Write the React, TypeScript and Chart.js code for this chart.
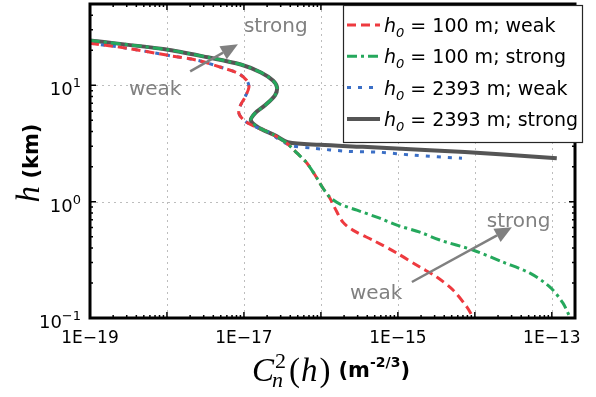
import React, { useEffect, useRef } from "react";
import { Chart, registerables } from "chart.js";
Chart.register(...registerables);

// ---- axis ranges & ticks ----
const X_MIN = 1e-19;
const X_MAX = 2e-13;
const Y_MIN = 0.1;
const Y_MAX = 50;
const xDecades = [-19, -18, -17, -16, -15, -14, -13];
const xLabelDecades = [-19, -17, -15, -13];
const yDecades = [-1, 0, 1];
const yExpLabels = ["\u22121", "0", "1"];

// ---- series: Cn2 (m^-2/3) vs h (km) ----
const weak100Cn2 = [1.0e-19, 3.1e-19, 1.03e-18, 2.5e-18, 5.0e-18, 8.4e-18, 1.09e-17, 1.16e-17, 1.03e-17, 8.9e-18, 8.6e-18, 1.0e-17, 1.35e-17, 2.24e-17, 3.6e-17, 4.9e-17, 6.6e-17, 8.9e-17, 1.06e-16, 1.31e-16, 1.52e-16, 1.93e-16, 2.6e-16, 5.0e-16, 9.7e-16, 1.93e-15, 3.2e-15, 5.2e-15, 7.9e-15, 9.4e-15];
const weak100H = [23.0, 20.8, 18.1, 16.4, 14.3, 12.7, 11.0, 9.6, 7.9, 6.6, 5.75, 5.0, 4.45, 3.87, 3.18, 2.61, 2.14, 1.59, 1.31, 1.07, 0.88, 0.667, 0.569, 0.458, 0.361, 0.274, 0.225, 0.174, 0.124, 0.102];

const strong100Cn2 = [1.0e-19, 9.4e-19, 3.4e-18, 9.1e-18, 1.66e-17, 2.38e-17, 2.69e-17, 2.53e-17, 1.88e-17, 1.39e-17, 1.23e-17, 1.52e-17, 2.53e-17, 3.6e-17, 4.9e-17, 6.6e-17, 8.9e-17, 1.06e-16, 1.31e-16, 1.77e-16, 2.94e-16, 5.8e-16, 9.7e-16, 1.93e-15, 3.5e-15, 9.4e-15, 2.3e-14, 5.2e-14, 9.4e-14, 1.39e-13, 1.71e-13];
const strong100H = [24.3, 20.4, 17.4, 15.1, 12.9, 11.0, 9.6, 8.2, 6.73, 5.75, 5.01, 4.36, 3.72, 3.18, 2.61, 2.14, 1.59, 1.31, 1.09, 0.953, 0.845, 0.721, 0.628, 0.547, 0.468, 0.384, 0.303, 0.243, 0.185, 0.135, 0.102];

const weak2393Cn2 = [1.0e-19, 3.1e-19, 1.03e-18, 2.5e-18, 5.0e-18, 8.4e-18, 1.09e-17, 1.16e-17, 1.03e-17, 8.9e-18, 8.6e-18, 1.0e-17, 1.35e-17, 2.24e-17, 2.7e-17, 4.0e-17, 7.9e-17, 2.2e-16, 5.8e-16, 1.57e-15, 6.8e-15];
const weak2393H = [23.0, 20.8, 18.1, 16.4, 14.3, 12.7, 11.0, 9.6, 7.9, 6.6, 5.75, 5.0, 4.45, 3.87, 3.51, 3.05, 2.88, 2.71, 2.66, 2.51, 2.36];

const strong2393Cn2 = [1.0e-19, 9.4e-19, 3.4e-18, 9.1e-18, 1.66e-17, 2.38e-17, 2.69e-17, 2.53e-17, 1.88e-17, 1.39e-17, 1.23e-17, 1.52e-17, 2.53e-17, 3.73e-17, 9.7e-17, 3.5e-16, 2.6e-15, 2.1e-14, 1.16e-13];
const strong2393H = [24.3, 20.4, 17.4, 15.1, 12.9, 11.0, 9.6, 8.2, 6.73, 5.75, 5.01, 4.36, 3.72, 3.24, 3.08, 2.96, 2.77, 2.56, 2.36];

const legendValues = ["100 m; weak", "100 m; strong", "2393 m; weak", "2393 m; strong"];

// annotation anchors in data units
const annUpperStrong = { x: 1.0e-17, y: 28.5 };
const annUpperWeak = { x: 3.2e-19, y: 8.2 };
const arrowUpper = { x0: 2.0e-18, y0: 13.2, x1: 8.35e-18, y1: 22.5 };
const annLowerStrong = { x: 1.43e-14, y: 0.604 };
const annLowerWeak = { x: 2.38e-16, y: 0.146 };
const arrowLower = { x0: 1.52e-15, y0: 0.204, x1: 3.03e-14, y1: 0.604 };

const RED = "#ee3a3f";
const GREEN = "#25a85c";
const BLUE = "#3b6fc6";
const GRAY = "#555555";
const ANN = "#808080";

const SANS = '"DejaVu Sans", sans-serif';
const SERIF = '"Liberation Serif", "DejaVu Serif", serif';

const styles = [
  { color: RED, dash: [9, 5], width: 3 },
  { color: GREEN, dash: [10, 4, 3, 4], width: 3 },
  { color: BLUE, dash: [4, 7], width: 3 },
  { color: GRAY, dash: [] as number[], width: 4 },
];

export default function App() {
  const ref = useRef<HTMLCanvasElement>(null);
  useEffect(() => {
    document.body.style.margin = "0";
    const canvas = ref.current!;
    const pts = (xs: number[], ys: number[]) => xs.map((x, i) => ({ x, y: ys[i] }));
    const series = [
      pts(weak100Cn2, weak100H),
      pts(strong100Cn2, strong100H),
      pts(weak2393Cn2, weak2393H),
      pts(strong2393Cn2, strong2393H),
    ];
    const orders = [1, 0, 2, 3];
    const datasets = series.map((d, i) => ({
      label: legendValues[i],
      data: d,
      showLine: true,
      pointRadius: 0,
      borderColor: styles[i].color,
      borderDash: styles[i].dash,
      borderWidth: styles[i].width,
      borderCapStyle: "butt" as const,
      tension: 0.3,
      fill: false,
      order: orders[i],
    }));

    const plugin = {
      id: "matlabLook",
      beforeDatasetsDraw(chart: any) {
        const { ctx, chartArea: a, scales } = chart;
        const sx = scales.x, sy = scales.y;
        ctx.save();
        ctx.strokeStyle = "#bdbdbd";
        ctx.lineWidth = 1;
        ctx.setLineDash([2, 4]);
        xDecades.forEach((e) => {
          if (e === -19) return;
          const px = Math.round(sx.getPixelForValue(Math.pow(10, e))) + 0.5;
          ctx.beginPath(); ctx.moveTo(px, a.top); ctx.lineTo(px, a.bottom); ctx.stroke();
        });
        yDecades.forEach((e) => {
          if (e === -1) return;
          const py = Math.round(sy.getPixelForValue(Math.pow(10, e))) + 0.5;
          ctx.beginPath(); ctx.moveTo(a.left, py); ctx.lineTo(a.right, py); ctx.stroke();
        });
        ctx.restore();
      },
      afterDraw(chart: any) {
        const { ctx, chartArea: a, scales } = chart;
        const sx = scales.x, sy = scales.y;
        const X = (v: number) => sx.getPixelForValue(v);
        const Y = (v: number) => sy.getPixelForValue(v);
        ctx.save();
        // ticks (inside, all four sides)
        ctx.strokeStyle = "#000";
        ctx.lineWidth = 1.5;
        ctx.setLineDash([]);
        const xt: [number, number][] = [];
        for (let e = -19; e <= -13; e++) {
          for (let k = 1; k <= 9; k++) {
            const v = k * Math.pow(10, e);
            if (v >= X_MIN && v <= X_MAX) xt.push([v, k === 1 ? 6 : 3]);
          }
        }
        xt.forEach(([v, len]) => {
          const px = X(v);
          ctx.beginPath();
          ctx.moveTo(px, a.bottom); ctx.lineTo(px, a.bottom - len);
          ctx.moveTo(px, a.top); ctx.lineTo(px, a.top + len);
          ctx.stroke();
        });
        const yt: [number, number][] = [];
        for (let e = -1; e <= 1; e++) {
          for (let k = 1; k <= 9; k++) {
            const v = k * Math.pow(10, e);
            if (v >= Y_MIN && v <= Y_MAX) yt.push([v, k === 1 ? 6 : 3]);
          }
        }
        yt.forEach(([v, len]) => {
          const py = Y(v);
          ctx.beginPath();
          ctx.moveTo(a.left, py); ctx.lineTo(a.left + len, py);
          ctx.moveTo(a.right, py); ctx.lineTo(a.right - len, py);
          ctx.stroke();
        });
        // box
        ctx.lineWidth = 3;
        ctx.strokeRect(a.left, a.top, a.right - a.left, a.bottom - a.top);

        // x tick labels
        ctx.fillStyle = "#000";
        ctx.font = `17px ${SANS}`;
        ctx.textAlign = "center";
        ctx.textBaseline = "alphabetic";
        xLabelDecades.forEach((e) => {
          ctx.fillText(`1E\u2212${-e}`, X(Math.pow(10, e)), 343);
        });
        // y tick labels 10^n
        ctx.textAlign = "left";
        yDecades.forEach((e, i) => {
          const py = Y(Math.pow(10, e));
          ctx.font = `13px ${SANS}`;
          const ew = ctx.measureText(yExpLabels[i]).width;
          ctx.font = `18px ${SANS}`;
          const bw = ctx.measureText("10").width;
          const right = 81;
          ctx.fillText("10", right - ew - bw, py + 10);
          ctx.font = `13px ${SANS}`;
          ctx.fillText(yExpLabels[i], right - ew, py + 2);
        });

        // x axis title: C_n^2(h) (m^-2/3)
        let cx = 252;
        const by = 381;
        ctx.font = `italic 33px ${SERIF}`;
        ctx.fillText("C", cx, by);
        cx += ctx.measureText("C").width;
        ctx.font = `22px ${SERIF}`;
        const w2 = ctx.measureText("2").width;
        ctx.fillText("2", cx + 1, by - 13);
        ctx.font = `italic 22px ${SERIF}`;
        const wn = ctx.measureText("n").width;
        ctx.fillText("n", cx - 2, by + 6);
        cx += Math.max(w2 + 1, wn - 2) + 3;
        ctx.font = `33px ${SERIF}`;
        ctx.fillText("(", cx, by);
        cx += ctx.measureText("(").width + 1;
        ctx.font = `italic 33px ${SERIF}`;
        ctx.fillText("h", cx, by);
        cx += ctx.measureText("h").width + 2;
        ctx.font = `33px ${SERIF}`;
        ctx.fillText(")", cx, by);
        cx += ctx.measureText(")").width + 8;
        ctx.font = `bold 21px ${SANS}`;
        ctx.fillText("(m", cx, by - 4);
        cx += ctx.measureText("(m").width;
        ctx.font = `bold 14px ${SANS}`;
        ctx.fillText("-2/3", cx, by - 14);
        cx += ctx.measureText("-2/3").width;
        ctx.font = `bold 21px ${SANS}`;
        ctx.fillText(")", cx, by - 4);

        // y axis title: h (km)
        ctx.save();
        ctx.translate(39, 163);
        ctx.rotate(-Math.PI / 2);
        ctx.font = `italic 33px ${SERIF}`;
        const wh = ctx.measureText("h").width;
        ctx.font = `bold 21px ${SANS}`;
        const wkm = ctx.measureText(" (km)").width;
        let tx = -(wh + wkm) / 2;
        ctx.font = `italic 33px ${SERIF}`;
        ctx.fillText("h", tx, 0);
        tx += wh;
        ctx.font = `bold 21px ${SANS}`;
        ctx.fillText(" (km)", tx, -1);
        ctx.restore();

        // annotations
        ctx.fillStyle = ANN;
        ctx.font = `20px ${SANS}`;
        ctx.fillText("strong", X(annUpperStrong.x), Y(annUpperStrong.y));
        ctx.fillText("weak", X(annUpperWeak.x), Y(annUpperWeak.y));
        ctx.fillText("strong", X(annLowerStrong.x), Y(annLowerStrong.y));
        ctx.fillText("weak", X(annLowerWeak.x), Y(annLowerWeak.y));
        const arrow = (ar: { x0: number; y0: number; x1: number; y1: number }) => {
          const x0 = X(ar.x0), y0 = Y(ar.y0), x1 = X(ar.x1), y1 = Y(ar.y1);
          const ang = Math.atan2(y1 - y0, x1 - x0);
          const L = 17, W = 7.5;
          const bx = x1 - L * Math.cos(ang), byy = y1 - L * Math.sin(ang);
          ctx.strokeStyle = ANN;
          ctx.lineWidth = 2.5;
          ctx.beginPath(); ctx.moveTo(x0, y0); ctx.lineTo(bx, byy); ctx.stroke();
          ctx.beginPath();
          ctx.moveTo(x1, y1);
          ctx.lineTo(bx + W * Math.sin(ang), byy - W * Math.cos(ang));
          ctx.lineTo(bx - W * Math.sin(ang), byy + W * Math.cos(ang));
          ctx.closePath();
          ctx.fill();
        };
        arrow(arrowUpper);
        arrow(arrowLower);

        // legend
        const lx = 343, ly = 5, lw = 239, lh = 137;
        ctx.fillStyle = "#fff";
        ctx.fillRect(lx, ly, lw, lh);
        ctx.strokeStyle = "#262626";
        ctx.lineWidth = 1.2;
        ctx.strokeRect(lx + 0.5, ly + 0.5, lw, lh);
        legendValues.forEach((txt, i) => {
          const yy = 25 + i * 31.3;
          const st = styles[i];
          ctx.strokeStyle = st.color;
          ctx.lineWidth = st.width;
          ctx.setLineDash(st.dash);
          ctx.beginPath(); ctx.moveTo(347, yy); ctx.lineTo(380, yy); ctx.stroke();
          ctx.setLineDash([]);
          ctx.fillStyle = "#000";
          let x = 384;
          ctx.font = `italic 19px ${SANS}`;
          ctx.fillText("h", x, yy + 7);
          x += ctx.measureText("h").width;
          ctx.font = `italic 13px ${SANS}`;
          ctx.fillText("0", x, yy + 12);
          x += ctx.measureText("0").width;
          ctx.font = `19px ${SANS}`;
          ctx.fillText(" = " + txt, x, yy + 7);
        });
        ctx.restore();
      },
    };

    const chart = new Chart(canvas, {
      type: "scatter",
      data: { datasets },
      options: {
        animation: false,
        responsive: false,
        layout: { padding: { left: 0, top: 4, right: 21, bottom: 0 } },
        plugins: { legend: { display: false }, tooltip: { enabled: false } },
        scales: {
          x: {
            type: "logarithmic",
            min: X_MIN,
            max: X_MAX,
            afterBuildTicks: (s: any) => {
              s.ticks = xDecades.map((e) => ({ value: Math.pow(10, e) }));
            },
            afterFit: (s: any) => { s.height = 79; },
            ticks: { display: false },
            grid: { display: false },
            border: { display: false },
          },
          y: {
            type: "logarithmic",
            min: Y_MIN,
            max: Y_MAX,
            afterBuildTicks: (s: any) => {
              s.ticks = yDecades.map((e) => ({ value: Math.pow(10, e) }));
            },
            afterFit: (s: any) => { s.width = 90; },
            ticks: { display: false },
            grid: { display: false },
            border: { display: false },
          },
        },
      },
      plugins: [plugin],
    } as any);
    return () => chart.destroy();
  }, []);
  return (
    <div style={{ width: 596, height: 397 }}>
      <canvas ref={ref} width={596} height={397} style={{ display: "block" }} />
    </div>
  );
}
